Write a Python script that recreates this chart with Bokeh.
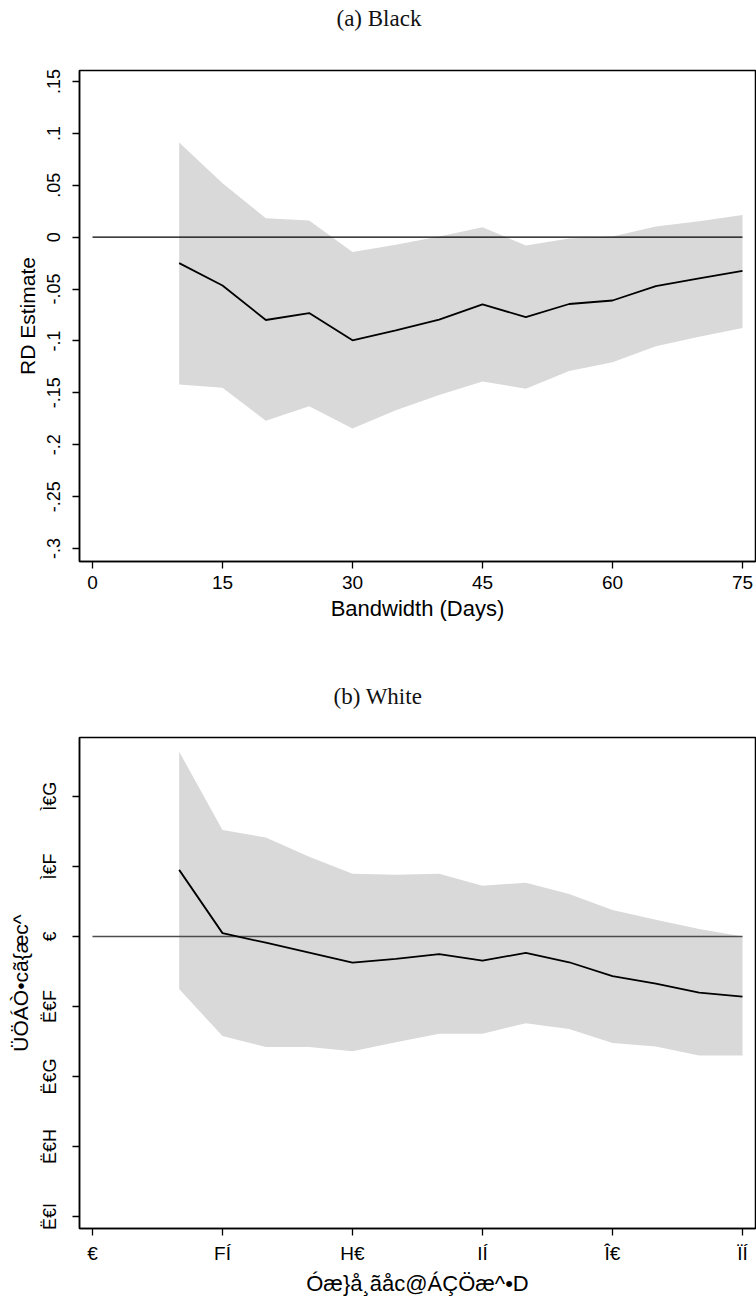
from bokeh.plotting import figure
from bokeh.layouts import column
from bokeh.models import Range1d, FixedTicker
from bokeh.embed import file_html
from bokeh.resources import INLINE

# ---------------- data ----------------
bandwidth = [10, 15, 20, 25, 30, 35, 40, 45, 50, 55, 60, 65, 70, 75]

black_est = [-0.025, -0.0465, -0.0798, -0.0731, -0.0994, -0.0898, -0.0795,
             -0.0648, -0.077, -0.0644, -0.061, -0.0471, -0.0398, -0.0324]
black_hi = [0.0913, 0.052, 0.0183, 0.016, -0.0144, -0.0074, 0.0006,
            0.0096, -0.008, -0.0013, 0.0006, 0.0102, 0.0154, 0.0214]
black_lo = [-0.142, -0.145, -0.177, -0.163, -0.1844, -0.1667, -0.152,
            -0.139, -0.146, -0.129, -0.1205, -0.105, -0.096, -0.0875]

white_est = [0.095, 0.0047, -0.009, -0.023, -0.0374, -0.032, -0.0254,
             -0.0345, -0.0235, -0.0369, -0.0567, -0.0675, -0.0803, -0.086]
white_hi = [0.2638, 0.1518, 0.1414, 0.1139, 0.0894, 0.088, 0.0894,
            0.0723, 0.0766, 0.0606, 0.0379, 0.0237, 0.0105, 0.0]
white_lo = [-0.0752, -0.1423, -0.158, -0.158, -0.164, -0.151, -0.139,
            -0.139, -0.124, -0.132, -0.152, -0.157, -0.170, -0.170]

ref_value = 0

x_ticks = [0, 15, 30, 45, 60, 75]
x_labels_a = ["0", "15", "30", "45", "60", "75"]
x_labels_b = ["€", "FÍ", "H€", "IÍ", "Î€", "ÏÍ"]

y_ticks_a = [-0.3, -0.25, -0.2, -0.15, -0.1, -0.05, 0, 0.05, 0.1, 0.15]
y_labels_a = ["-.3", "-.25", "-.2", "-.15", "-.1", "-.05", "0", ".05", ".1", ".15"]
y_ticks_b = [-0.4, -0.3, -0.2, -0.1, 0, 0.1, 0.2]
y_labels_b = ["Ë€I", "Ë€H", "Ë€G", "Ë€F", "€", "Ì€F", "Ì€G"]

title_a = "(a) Black"
title_b = "(b) White"
xlabel_a = "Bandwidth (Days)"
ylabel_a = "RD Estimate"
xlabel_b = "Óæ}å¸ãåc@ÁÇÖæ^•D"
ylabel_b = "ÜÖÁÒ•cã{æc^"

FILL = "#d9d9d9"


def panel(title, est, hi, lo, xlab, ylab, xlabels, yticks, ylabels,
          yr, height, top, bottom, title_pad, title_offset, zero_color, zero_width):
    p = figure(width=756, height=height, output_backend="svg",
               toolbar_location=None, x_range=Range1d(-1.5, 76.5),
               y_range=Range1d(*yr), min_border_left=79, min_border_right=1,
               min_border_top=top, min_border_bottom=bottom)
    p.background_fill_color = "white"
    p.border_fill_color = "white"
    p.outline_line_color = "black"
    p.outline_line_width = 1.5
    p.xgrid.visible = False
    p.ygrid.visible = False

    p.title.text = title
    p.title.text_font = "Liberation Serif"
    p.title.text_font_style = "normal"
    p.title.text_font_size = "23px"
    p.title.text_color = "#111111"
    p.title.align = "left"
    p.title.offset = title_offset
    p.title.standoff = 0
    p.title.padding = dict(left=0, right=0, top=0, bottom=title_pad)

    p.varea(x=bandwidth, y1=lo, y2=hi, fill_color=FILL, fill_alpha=1.0)
    p.segment(x0=[x_ticks[0]], y0=[ref_value], x1=[x_ticks[-1]], y1=[ref_value],
              line_color=zero_color, line_width=zero_width)
    p.line(x=bandwidth, y=est, line_color="black", line_width=1.8)

    p.xaxis.ticker = FixedTicker(ticks=x_ticks)
    p.xaxis.major_label_overrides = {t: l for t, l in zip(x_ticks, xlabels)}
    p.yaxis.ticker = FixedTicker(ticks=yticks)
    p.yaxis.major_label_overrides = {t: l for t, l in zip(yticks, ylabels)}

    for ax in (p.xaxis[0], p.yaxis[0]):
        ax.axis_line_color = "black"
        ax.axis_line_width = 1.5
        ax.major_tick_line_color = "black"
        ax.major_tick_line_width = 1.3
        ax.major_tick_in = 0
        ax.major_tick_out = 7
        ax.minor_tick_in = 0
        ax.minor_tick_out = 0
        ax.major_label_text_font = "Liberation Sans"
        ax.major_label_text_color = "black"
        ax.axis_label_text_font = "Liberation Sans"
        ax.axis_label_text_font_style = "normal"
        ax.axis_label_text_color = "black"

    p.xaxis.axis_label = xlab
    p.xaxis.axis_label_text_font_size = "22px"
    p.xaxis.major_label_text_font_size = "19px"
    p.xaxis.major_label_standoff = 7
    p.xaxis.axis_label_standoff = 4

    p.yaxis.axis_label = ylab
    p.yaxis.axis_label_text_font_size = "21px"
    p.yaxis.major_label_text_font_size = "18px"
    p.yaxis.major_label_orientation = "vertical"
    p.yaxis.major_label_standoff = 12
    p.yaxis.axis_label_standoff = 6
    return p


pa = panel(title_a, black_est, black_hi, black_lo, xlabel_a, ylabel_a,
           x_labels_a, y_ticks_a, y_labels_a, (-0.3125, 0.1606),
           640, 70, 79, 40, 257, "black", 1.2)
pb = panel(title_b, white_est, white_hi, white_lo, xlabel_b, ylabel_b,
           x_labels_b, y_ticks_b, y_labels_b, (-0.417, 0.284),
           658, 97, 69, 29, 254, "#4d4d4d", 1.5)

layout = column(pa, pb, spacing=0)
open("out.html", "w").write(file_html(layout, INLINE))
